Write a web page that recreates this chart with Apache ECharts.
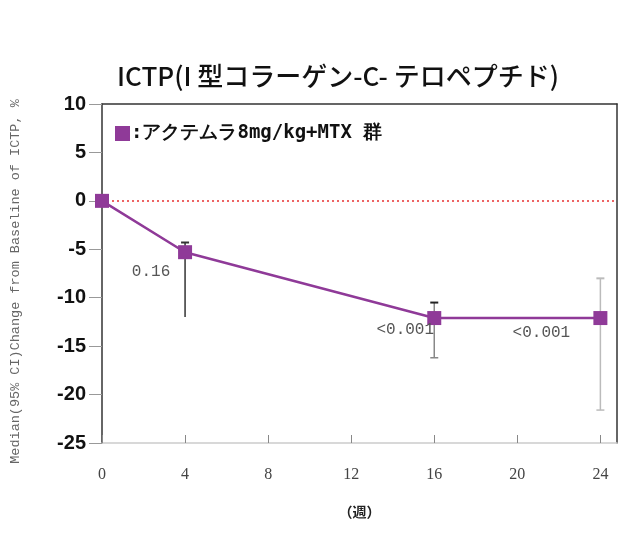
<!DOCTYPE html>
<html><head><meta charset="utf-8">
<script src="https://cdn.jsdelivr.net/npm/echarts@6/dist/echarts.min.js"></script>
<style>html,body{margin:0;padding:0;background:#fff}#c{width:640px;height:533px}</style>
</head><body><div id="c"></div>
<script>
const weeks = [0, 4, 16, 24];
const median = [0, -5.3, -12.1, -12.1];
const ciHigh = [null, -4.3, -10.5, -8.0];
const ciLow = [null, -12.0, -16.2, -21.6];
const pLabels = ['', '0.16', '<0.001', '<0.001'];
const xTicks = [0, 4, 8, 12, 16, 20, 24];
const yTicks = [10, 5, 0, -5, -10, -15, -20, -25];
const seriesName = ':アクテムラ8mg/kg+MTX 群';
const purple = '#8f3a98';
const barColors = ['#333', '#333', '#888', '#bbb'];
const labelOffsets = [[0,0], [-34, 20], [-29, 12], [-59, 15]];

const chart = echarts.init(document.getElementById('c'));
chart.setOption({
  animation: false,
  title: {
    text: 'ICTP(I 型コラーゲン-C- テロペプチド)',
    left: 333, top: 58, textAlign: 'center',
    textStyle: {fontFamily: 'Noto Sans CJK JP', fontSize: 26, fontWeight: 500, color: '#111'}
  },
  legend: {
    left: 110, top: 119, icon: 'rect', itemWidth: 15, itemHeight: 15, itemGap: 4,
    data: [seriesName],
    textStyle: {fontFamily: 'DejaVu Sans Mono', fontSize: 19, fontWeight: 'bold', color: '#111', padding: [0,0,0,-4]}
  },
  grid: {left: 98, right: 23, top: 104, bottom: 90},
  xAxis: [{
    type: 'value', min: 0, max: 24.8, interval: 4,
    name: '（週）', nameLocation: 'middle', nameGap: 62,
    nameTextStyle: {fontFamily: 'Noto Sans CJK JP', fontSize: 14, fontWeight: 'bold', color: '#222'},
    axisLine: {show: true, onZero: false, lineStyle: {color: '#ccc', width: 1.5}},
    axisTick: {show: true, inside: true, length: 8, lineStyle: {color: '#888'}},
    axisLabel: {margin: 24, fontFamily: 'Liberation Serif', fontSize: 16, color: '#444',
      showMaxLabel: false, formatter: v => xTicks.includes(v) ? String(v) : ''},
    splitLine: {show: false}
  }, {
    type: 'value', min: 0, max: 24.8, position: 'top',
    axisLine: {show: true, onZero: false, lineStyle: {color: '#333', width: 1.5}},
    axisTick: {show: false}, axisLabel: {show: false}, splitLine: {show: false}
  }],
  yAxis: [{
    type: 'value', min: -25, max: 10, interval: 5,
    name: 'Median(95% CI)Change from Baseline of ICTP, %', nameLocation: 'middle', nameGap: 80,
    nameTextStyle: {fontFamily: 'Liberation Mono', fontSize: 13.5, color: '#666', padding: [0, 0, 0, -16]},
    axisLine: {show: true, onZero: false, lineStyle: {color: '#333', width: 1.5}},
    axisTick: {show: true, length: 13, lineStyle: {color: '#999'}},
    axisLabel: {margin: 16, fontFamily: 'Liberation Sans Narrow, Liberation Sans', fontSize: 20, fontWeight: 'bold', color: '#111',
      formatter: v => yTicks.includes(v) ? String(v) : ''},
    splitLine: {show: false}
  }, {
    type: 'value', min: -25, max: 10, position: 'right',
    axisLine: {show: true, onZero: false, lineStyle: {color: '#333', width: 1.5}},
    axisTick: {show: false}, axisLabel: {show: false}, splitLine: {show: false}
  }],
  series: [{
    type: 'custom', name: 'ci', silent: true, z: 3,
    data: weeks.map((w, i) => [w, ciLow[i], ciHigh[i], i]),
    renderItem: (params, api) => {
      const idx = api.value(3);
      if (ciLow[idx] == null) return null;
      const lo = api.coord([api.value(0), api.value(1)]);
      const hi = api.coord([api.value(0), api.value(2)]);
      const c = barColors[idx];
      return {type: 'group', children: [
        {type: 'line', shape: {x1: lo[0], y1: lo[1], x2: hi[0], y2: hi[1]}, style: {stroke: c, lineWidth: 1.5}},
        {type: 'line', shape: {x1: hi[0]-4, y1: hi[1], x2: hi[0]+4, y2: hi[1]}, style: {stroke: idx===2?'#222':c, lineWidth: 2}},
        {type: 'line', shape: {x1: lo[0]-4, y1: lo[1], x2: lo[0]+4, y2: lo[1]}, style: {stroke: c, lineWidth: idx===1?0:1.5}}
      ]};
    }
  }, {
    type: 'line', name: seriesName, z: 5,
    symbol: 'rect', symbolSize: 14, color: purple,
    lineStyle: {color: purple, width: 2.5},
    itemStyle: {color: purple},
    data: weeks.map((w, i) => ({
      value: [w, median[i]],
      label: {show: pLabels[i] !== '', formatter: pLabels[i], position: 'inside',
        offset: labelOffsets[i], fontFamily: 'Liberation Mono', fontSize: 16, color: '#555'}
    })),
    markLine: {
      silent: true, symbol: 'none', label: {show: false}, z: 2,
      lineStyle: {color: '#e83030', type: [2, 3], width: 1.5},
      data: [{yAxis: 0}]
    }
  }]
});
</script></body></html>
